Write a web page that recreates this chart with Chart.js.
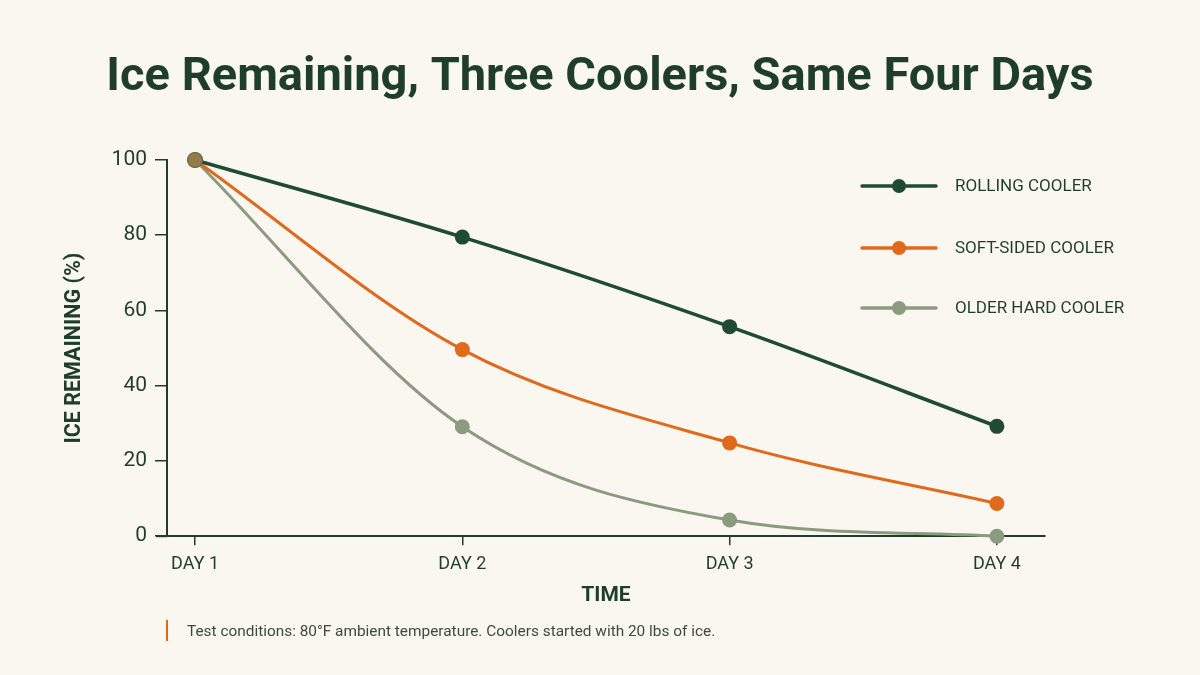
<!DOCTYPE html>
<html><head><meta charset="utf-8">
<script src="https://cdn.jsdelivr.net/npm/chart.js@4.4.1/dist/chart.umd.min.js"></script>
<style>html,body{margin:0;padding:0;background:#faf7f0;}#wrap{width:1200px;height:675px;position:relative;}</style>
</head><body><div id="wrap"><canvas id="c" width="1200" height="675"></canvas></div>
<script>
// ---- data ----
const dayLabels = ['DAY 1', 'DAY 2', 'DAY 3', 'DAY 4'];
const dayNumbers = [1, 2, 3, 4];
const rollingCooler = [100, 79.5, 55.7, 29.2];
const softSidedCooler = [100, 49.6, 24.8, 8.7];
const olderHardCooler = [100, 29.1, 4.3, 0];
const seriesNames = ['ROLLING COOLER', 'SOFT-SIDED COOLER', 'OLDER HARD COOLER'];
const yTickValues = [0, 20, 40, 60, 80, 100];
const chartTitle = 'Ice Remaining, Three Coolers, Same Four Days';
const xAxisTitle = 'TIME';
const yAxisTitle = 'ICE REMAINING (%)';
const footnote = 'Test conditions: 80°F ambient temperature. Coolers started with 20 lbs of ice.';

const INK = '#1f3d2b';
const COLORS = ['#1f4a33', '#e0691c', '#8c9a80'];

const toPoints = arr => arr.map((v, i) => ({x: dayNumbers[i], y: v}));

const extras = {
  id: 'extras',
  beforeDraw(chart) {
    const ctx = chart.ctx;
    ctx.save();
    ctx.fillStyle = '#faf7f0';
    ctx.fillRect(0, 0, chart.width, chart.height);
    ctx.restore();
  },
  beforeDatasetsDraw(chart) {
    const ctx = chart.ctx;
    const ca = chart.chartArea;
    ctx.save();
    // x axis line extension to the left
    ctx.strokeStyle = INK;
    ctx.lineWidth = 2;
    ctx.beginPath();
    ctx.moveTo(156, ca.bottom);
    ctx.lineTo(ca.left, ca.bottom);
    ctx.stroke();
    ctx.restore();
  },
  afterDraw(chart) {
    const ctx = chart.ctx;
    ctx.save();
    // title
    ctx.fillStyle = INK;
    ctx.font = 'bold 47px Roboto';
    ctx.textAlign = 'center';
    ctx.textBaseline = 'alphabetic';
    ctx.fillText(chartTitle, 600, 90);
    // legend
    const rows = [186, 248, 308];
    chart.data.datasets.forEach((ds, i) => {
      const y = rows[i];
      ctx.strokeStyle = COLORS[i];
      ctx.lineWidth = 3.5;
      ctx.lineCap = 'round';
      ctx.beginPath();
      ctx.moveTo(862, y); ctx.lineTo(936, y); ctx.stroke();
      ctx.fillStyle = COLORS[i];
      ctx.beginPath(); ctx.arc(899, y, 7, 0, Math.PI * 2); ctx.fill();
      ctx.fillStyle = INK;
      ctx.font = '17px Roboto';
      ctx.textAlign = 'left';
      ctx.textBaseline = 'middle';
      ctx.fillText(ds.label, 955, y + 1);
    });
    // footnote
    ctx.fillStyle = '#e0691c';
    ctx.fillRect(166, 620, 2, 21);
    ctx.fillStyle = '#3a4a3e';
    ctx.font = '15.4px Roboto';
    ctx.textAlign = 'left';
    ctx.textBaseline = 'middle';
    ctx.fillText(footnote, 187, 632);
    ctx.restore();
  }
};

const mkDataset = (label, data, i, width) => ({
  label, data: toPoints(data),
  borderColor: COLORS[i],
  backgroundColor: COLORS[i],
  pointBackgroundColor: COLORS[i],
  pointBorderColor: COLORS[i],
  borderWidth: width,
  pointRadius: 7.5,
  pointBorderWidth: 0,
  cubicInterpolationMode: 'monotone',
  clip: false,
  order: i
});

const datasets = [
  mkDataset(seriesNames[0], rollingCooler, 0, 3.5),
  mkDataset(seriesNames[1], softSidedCooler, 1, 3),
  mkDataset(seriesNames[2], olderHardCooler, 2, 3)
];
// shared starting point (overlapping markers blend to olive-brown); rolling is drawn on top
datasets[0].pointBackgroundColor = ctx => ctx.dataIndex === 0 ? '#957c4a' : COLORS[0];
datasets[0].pointBorderColor = ctx => ctx.dataIndex === 0 ? '#5e6a45' : COLORS[0];
datasets[0].pointBorderWidth = ctx => ctx.dataIndex === 0 ? 1.2 : 0;

new Chart(document.getElementById('c'), {
  type: 'line',
  data: {datasets},
  options: {
    responsive: false,
    animation: false,
    devicePixelRatio: 1,
    layout: {padding: {top: 160, right: 155, bottom: 63, left: 58}},
    plugins: {legend: {display: false}, tooltip: {enabled: false}, title: {display: false}},
    scales: {
      x: {
        type: 'linear',
        min: 0.895,
        max: 4.18,
        afterBuildTicks: axis => { axis.ticks = dayNumbers.map(v => ({value: v})); },
        ticks: {
          callback: v => dayLabels[dayNumbers.indexOf(v)] || '',
          color: INK, font: {family: 'Roboto', size: 18}, padding: 8, maxRotation: 0, autoSkip: false
        },
        grid: {display: true, drawOnChartArea: false, drawTicks: true, tickLength: 9, color: INK, lineWidth: 1.5},
        border: {display: true, color: INK, width: 2},
        title: {display: true, text: xAxisTitle, color: INK, font: {family: 'Roboto', size: 21, weight: 'bold'}, padding: {top: 0}}
      },
      y: {
        min: 0, max: 100,
        afterBuildTicks: axis => { axis.ticks = yTickValues.map(v => ({value: v})); },
        afterFit: scale => { scale.width = 109; },
        ticks: {color: INK, font: {family: 'Roboto', size: 21}, padding: 8},
        grid: {display: true, drawOnChartArea: false, drawTicks: true, tickLength: 12, color: INK, lineWidth: 1.5},
        border: {display: true, color: INK, width: 2},
        title: {display: true, text: yAxisTitle, color: INK, font: {family: 'Roboto', size: 21.5, weight: 'bold'}, padding: {bottom: 0}}
      }
    }
  },
  plugins: [extras]
});
</script></body></html>
